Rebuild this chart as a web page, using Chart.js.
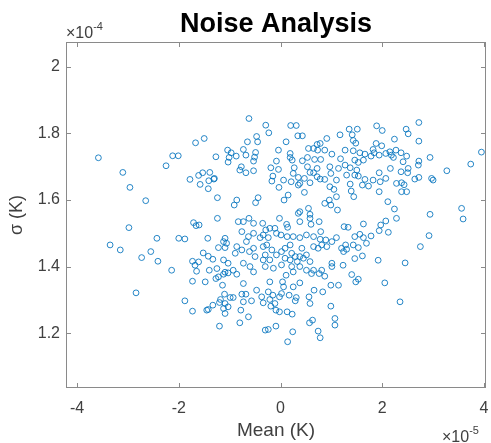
<!DOCTYPE html>
<html>
<head>
<meta charset="utf-8">
<script src="https://cdn.jsdelivr.net/npm/chart.js@4.4.1/dist/chart.umd.min.js"></script>
<style>
    body { margin: 0; background: #fff; }
    canvas { display: block; }
</style>
</head>
<body>
<canvas id="noiseChart" width="491" height="443"></canvas>
<script>
// Mean (K) in units of 1e-5, sigma (K) in units of 1e-4
const meanK = [
    -3.58, -3.10, -2.96, -2.25, -2.12, -2.01, -1.67, -1.50, -1.27, -1.78, -1.61, -1.53, -1.39, -1.41, -1.31, -1.58, -1.42,
    -0.62, -0.29, -0.23, 0.20, 0.31, 0.34, 0.43, 0.11, -0.47, -0.45, -0.65, -0.73, -0.49, -0.51, -0.53, -0.68, -1.04, -0.97, -1.01, -1.03,
    -0.87, -0.77, -0.80, -0.68, -0.53, -0.04, -0.08, -0.19, -0.04, -0.15, -0.17, -0.03, 0.06, 0.19, 0.19, 0.23, 0.27, 0.25, 0.35, 0.43,
    0.53, 0.55, 0.65, 0.72, 0.78, 0.91, 0.87, 0.73, 0.67, 0.79, 1.01, 1.18, 1.27, 1.17, 1.35, 0.53, 0.58, 0.65, 0.72, 0.78, 0.72, 0.87,
    0.97, 0.99, 1.10, 1.14, 1.27, 1.30, 0.97, 0.38, 0.47, -1.30, 0.21, 0.35, 0.58,
    2.72, 2.47, 2.51, 2.72, 2.24, 1.89, 2.00, 1.51, 1.41, 1.43, 1.48, 1.88, 1.99, 1.82, 1.84, 1.43, 1.56, 1.66, 1.78, 1.94, 2.07, 2.15,
    2.18, 2.22, 2.27, 2.37, 2.48, 2.41, 2.37, 2.51, 2.50, 2.72, 2.71, 2.94, 2.16, 1.94, 1.37, 1.46, 1.53, 1.63, 1.50, 1.53, 1.46, 1.66,
    1.82, 1.96, 2.07, 2.28, 2.38, 2.43, 2.64, 2.72, 2.97, 3.00, 3.27, 3.74, 3.95, 1.61, 1.73, 1.37,
    -2.65, -2.98, -3.35, -3.15, -2.73, -2.55, -2.41, -2.43, -2.00, -1.88, -2.14, -1.71, -1.66, -1.60, -1.43, -1.24, -1.24, -1.52, -1.42,
    -1.33, -1.73, -1.61, -1.68, -1.65, -1.40, -1.25, -1.22,
    1.05, -0.86, -0.91, -0.44, -0.49, 0.15, 0.07, 0.47, 0.87, 0.96, 0.99, 1.10, 1.12, 0.35, 0.38, 0.55, 0.58, 0.58, -0.83, -0.73, -0.62,
    -0.53, -0.35, -0.02, 0.12, 0.14, 0.38, 0.76, 0.60, 0.79, 1.25, 1.10, 1.01, 0.89, 0.78, 0.65, 0.51, 0.38, 0.25, 0.13, 0.01, -0.08,
    -0.11, -0.21, -0.29, -0.34, -0.24, -0.40, -0.53, -0.63, -0.67, -0.76, -1.09, -1.12, -1.06, -1.09, -0.86, -0.76, -0.89, -0.61, -0.53,
    -0.50, -0.34, -0.27, -0.17, -0.30, -0.34, -0.21, -0.08, 0.02, 0.09, 0.19, 0.22, 0.09, 0.19, 0.29, 0.38, 0.33, 0.45, 0.51, 0.58, 0.42,
    0.65, 0.74, 0.81, 0.91, 1.01, 1.28, 1.20, -1.12, -1.03, -1.09, -0.93, -0.73, -0.60, -0.53, -0.30, -0.14, 0.02, 0.22, 0.25, 0.38,
    0.51, 0.65, 0.81, 1.01, 1.23,
    1.39, 1.44, 1.94, 2.38, 2.48, 2.11, 2.24, 2.94, 3.56, 3.59, 2.28, 2.07, 1.97, 1.94, 2.12, 1.63, 1.33, 1.46, 1.56, 1.63, 1.78, 1.69,
    1.43, 1.53, 1.30, 1.24, 2.92, 2.75, 1.46, 1.61, 1.92, 2.45, 1.40,
    -2.84, -1.73, -1.48, -1.27, -1.88, -1.73, -1.45, -1.42, -1.33, -1.20, -1.20,
    -1.22, -1.12, -1.03, -0.86, 0.11, 0.61, 0.76, 0.87, -1.14, -0.73, -0.21, 0.04, 0.06, 0.38, 0.25, 0.66, 0.83, 0.99, 1.14, -0.47,
    -1.10, -1.18, -1.09, -0.99, -0.93, -1.03, -1.12, -1.09, -0.76, -0.68, -0.73, -0.57, -0.37, -0.34, -0.24, -0.21, -0.15, -0.11, -0.19,
    -0.02, 0.02, 0.17, 0.31, 0.29, 0.56, 0.58, -0.09, -0.02, 0.13, 0.23, -0.78, -0.63, -0.80, -0.30, -0.24, -0.09, 0.24, 0.14, 0.74,
    0.78, 0.57, 0.63, 0.99, 1.07, 1.07,
    1.48, 1.53, 2.05, 2.35
];

const sigmaK = [
    1.727, 1.683, 1.638, 1.703, 1.733, 1.733, 1.772, 1.785, 1.730, 1.662, 1.674, 1.682, 1.683, 1.658, 1.663, 1.647, 1.634,
    1.845, 1.825, 1.802, 1.824, 1.824, 1.793, 1.793, 1.775, 1.791, 1.775, 1.775, 1.752, 1.743, 1.729, 1.717, 1.735, 1.750, 1.742, 1.728, 1.714,
    1.732, 1.700, 1.690, 1.682, 1.688, 1.750, 1.717, 1.697, 1.692, 1.672, 1.657, 1.638, 1.660, 1.740, 1.728, 1.720, 1.697, 1.680, 1.668, 1.718,
    1.728, 1.755, 1.755, 1.767, 1.770, 1.785, 1.750, 1.750, 1.722, 1.722, 1.738, 1.724, 1.750, 1.796, 1.813, 1.700, 1.683, 1.682, 1.670, 1.663, 1.695, 1.662,
    1.700, 1.680, 1.660, 1.695, 1.705, 1.675, 1.640, 1.650, 1.665, 1.665, 1.655, 1.645, 1.652,
    1.833, 1.813, 1.799, 1.777, 1.783, 1.823, 1.809, 1.813, 1.796, 1.779, 1.771, 1.770, 1.763, 1.752, 1.742, 1.748, 1.742, 1.738, 1.732, 1.735, 1.740, 1.745,
    1.735, 1.728, 1.750, 1.742, 1.732, 1.715, 1.685, 1.695, 1.682, 1.717, 1.705, 1.728, 1.695, 1.682, 1.697, 1.720, 1.713, 1.720, 1.690, 1.672, 1.675, 1.662,
    1.660, 1.655, 1.665, 1.650, 1.652, 1.646, 1.663, 1.668, 1.665, 1.660, 1.688, 1.708, 1.744, 1.645, 1.642, 1.648,
    1.598, 1.517, 1.465, 1.450, 1.427, 1.445, 1.416, 1.485, 1.485, 1.483, 1.389, 1.532, 1.523, 1.525, 1.485, 1.545, 1.607, 1.441, 1.431,
    1.422, 1.416, 1.414, 1.404, 1.386, 1.389, 1.394, 1.457,
    1.632, 1.600, 1.585, 1.607, 1.592, 1.615, 1.600, 1.623, 1.590, 1.600, 1.585, 1.610, 1.570, 1.560, 1.565, 1.575, 1.557, 1.545, 1.535, 1.535, 1.545,
    1.530, 1.530, 1.545, 1.527, 1.518, 1.535, 1.535, 1.527, 1.505, 1.520, 1.487, 1.475, 1.480, 1.482, 1.490, 1.495, 1.487, 1.490, 1.490, 1.495, 1.500,
    1.515, 1.515, 1.510, 1.495, 1.487, 1.487, 1.500, 1.490, 1.475, 1.505, 1.485, 1.475, 1.470, 1.457, 1.460, 1.450, 1.440, 1.445, 1.455,
    1.430, 1.460, 1.465, 1.450, 1.435, 1.420, 1.420, 1.435, 1.445, 1.455, 1.465, 1.440, 1.425, 1.420, 1.430, 1.430, 1.415, 1.425, 1.435, 1.415, 1.455,
    1.460, 1.455, 1.465, 1.460, 1.410, 1.465, 1.455, 1.420, 1.410, 1.383, 1.389, 1.410, 1.400, 1.384, 1.400, 1.395, 1.405, 1.400, 1.384, 1.400,
    1.389, 1.389, 1.389, 1.400, 1.404,
    1.627, 1.610, 1.625, 1.625, 1.625, 1.595, 1.573, 1.557, 1.575, 1.543, 1.545, 1.537, 1.525, 1.508, 1.503, 1.528, 1.518, 1.490, 1.497, 1.487, 1.492, 1.470,
    1.465, 1.457, 1.452, 1.445, 1.493, 1.460, 1.424, 1.432, 1.419, 1.411, 1.376,
    1.321, 1.356, 1.354, 1.364, 1.297, 1.266, 1.269, 1.271, 1.284, 1.292, 1.221,
    1.369, 1.377, 1.381, 1.377, 1.374, 1.379, 1.379, 1.371, 1.344, 1.349, 1.354, 1.354, 1.339, 1.351, 1.339, 1.329, 1.324, 1.344, 1.344, 1.329,
    1.317, 1.301, 1.289, 1.307, 1.307, 1.279, 1.274, 1.259, 1.317, 1.317, 1.294, 1.297, 1.309, 1.291, 1.324, 1.301, 1.314, 1.289, 1.281,
    1.309, 1.319, 1.314, 1.307, 1.297, 1.309, 1.289, 1.269, 1.264, 1.264, 1.257, 1.269, 1.249, 1.231, 1.209, 1.211, 1.221, 1.204, 1.174, 1.206,
    1.186, 1.231, 1.239, 1.281, 1.244, 1.224,
    1.354, 1.362, 1.351, 1.294
];

const xTicks = [-4, -2, 0, 2, 4];
const yTicks = [1.2, 1.4, 1.6, 1.8, 2];

const FONT = "'Liberation Sans', Arial, Helvetica, sans-serif";
const TEXT_COLOR = '#404040';
const AXIS_COLOR = '#8a8a8a';

// MATLAB style box, inward ticks, title and exponent labels
const matlabAxes = {
    id: 'matlabAxes',
    afterDraw(chart) {
        const ctx = chart.ctx;
        const area = chart.chartArea;
        const xs = chart.scales.x;
        const ys = chart.scales.y;
        const tick = 5;

        ctx.save();
        ctx.strokeStyle = AXIS_COLOR;
        ctx.lineWidth = 1;
        ctx.strokeRect(area.left + 0.5, area.top + 0.5, area.right - area.left - 1, area.bottom - area.top - 1);

        ctx.beginPath();
        xTicks.forEach(v => {
            const px = Math.round(xs.getPixelForValue(v)) + 0.5;
            ctx.moveTo(px, area.bottom);
            ctx.lineTo(px, area.bottom - tick);
            ctx.moveTo(px, area.top);
            ctx.lineTo(px, area.top + tick);
        });
        yTicks.forEach(v => {
            const py = Math.round(ys.getPixelForValue(v)) + 0.5;
            ctx.moveTo(area.left, py);
            ctx.lineTo(area.left + tick, py);
            ctx.moveTo(area.right, py);
            ctx.lineTo(area.right - tick, py);
        });
        ctx.stroke();

        // title
        ctx.fillStyle = '#000';
        ctx.font = `bold 27px ${FONT}`;
        ctx.textAlign = 'center';
        ctx.textBaseline = 'alphabetic';
        ctx.fillText('Noise Analysis', (area.left + area.right) / 2, 32);

        // exponent labels
        ctx.fillStyle = TEXT_COLOR;
        ctx.textAlign = 'left';
        ctx.font = `16px ${FONT}`;
        ctx.fillText('\u00d710', area.left, 38);
        let w = ctx.measureText('\u00d710').width;
        ctx.font = `11px ${FONT}`;
        ctx.fillText('-4', area.left + w, 30);

        ctx.font = `16px ${FONT}`;
        ctx.fillText('\u00d710', 442, 442);
        w = ctx.measureText('\u00d710').width;
        ctx.font = `11px ${FONT}`;
        ctx.fillText('-5', 442 + w, 434);
        ctx.restore();
    }
};

new Chart(document.getElementById('noiseChart'), {
    type: 'scatter',
    data: {
        datasets: [{
            label: 'sigma vs mean',
            data: meanK.map((m, i) => ({ x: m, y: sigmaK[i] })),
            pointStyle: 'circle',
            pointRadius: 2.9,
            pointBorderWidth: 1,
            pointBackgroundColor: 'rgba(0,0,0,0)',
            pointBorderColor: 'rgba(0,114,189,0.85)'
        }]
    },
    options: {
        responsive: false,
        animation: false,
        layout: { padding: { top: 42, right: 5, left: 0, bottom: 0 } },
        plugins: {
            legend: { display: false },
            tooltip: { enabled: false },
            title: { display: false }
        },
        scales: {
            x: {
                type: 'linear',
                min: -4.217,
                max: 4.04,
                afterBuildTicks: scale => { scale.ticks = xTicks.map(v => ({ value: v })); },
                afterFit: scale => {
                    scale.height = 55;
                    scale.paddingLeft = 0;
                    scale.paddingRight = 0;
                },
                grid: { display: false, drawTicks: false },
                border: { display: false },
                ticks: { color: TEXT_COLOR, font: { family: FONT, size: 16 }, padding: 11 },
                title: { display: true, text: 'Mean (K)', color: TEXT_COLOR, font: { family: FONT, size: 19 }, padding: { top: 0, bottom: 1 } }
            },
            y: {
                type: 'linear',
                min: 1.035,
                max: 2.075,
                afterBuildTicks: scale => { scale.ticks = yTicks.map(v => ({ value: v })); },
                afterFit: scale => {
                    scale.width = 66;
                    scale.paddingTop = 0;
                    scale.paddingBottom = 0;
                },
                grid: { display: false, drawTicks: false },
                border: { display: false },
                ticks: {
                    color: TEXT_COLOR,
                    font: { family: FONT, size: 16 },
                    padding: 6,
                    callback: v => String(Math.round(v * 10) / 10)
                },
                title: { display: true, text: '\u03c3 (K)', color: TEXT_COLOR, font: { family: FONT, size: 18 }, padding: { top: 6, bottom: 0 } }
            }
        }
    },
    plugins: [matlabAxes]
});
</script>
</body>
</html>
